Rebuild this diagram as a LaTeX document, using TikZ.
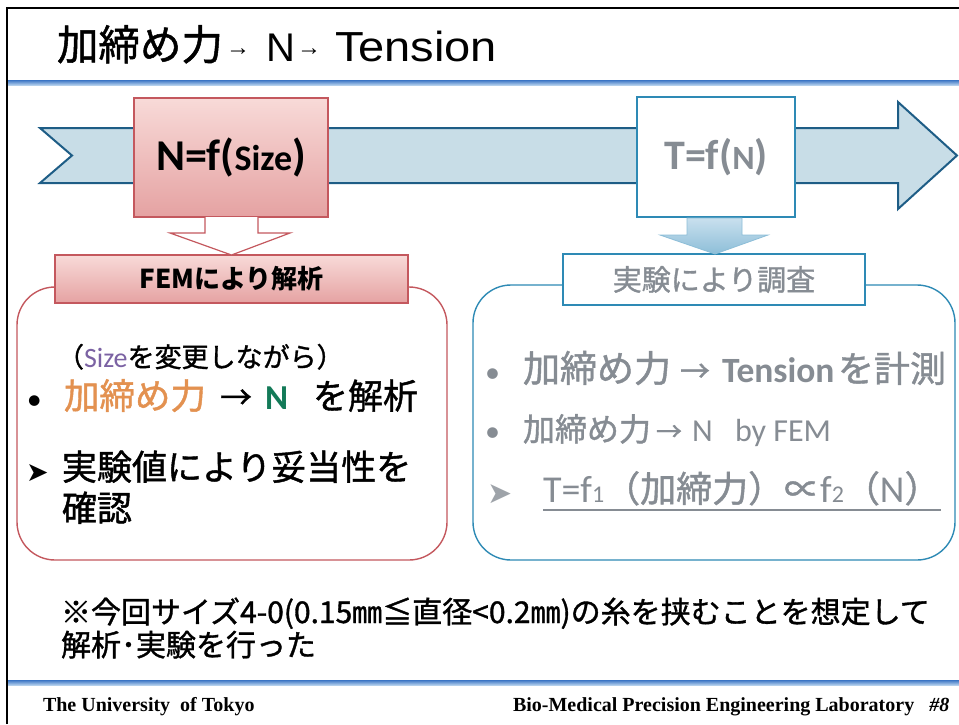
\documentclass[tikz,border=0pt]{standalone}
\usepackage{fontspec}
\usetikzlibrary{calc}
\setmainfont{Carlito}
\newfontfamily\jp{Noto Sans CJK JP}
\newfontfamily\jpm[FakeBold=1.2]{Noto Sans CJK JP}
\newfontfamily\ars{Liberation Sans}
\newfontfamily\arsw[FakeStretch=1.12]{Liberation Sans}
\newfontfamily\tms{Liberation Serif}
\newfontfamily\dvs{DejaVu Sans}
\definecolor{redb}{HTML}{C4585E}
\definecolor{pinkT}{HTML}{F8DAD8}
\definecolor{pinkB}{HTML}{E5A2A2}
\definecolor{arrfill}{HTML}{C8DDE7}
\definecolor{arrline}{HTML}{1E5D86}
\definecolor{blueb}{HTML}{2E8AB5}
\definecolor{bdT}{HTML}{C9E0EE}
\definecolor{bdB}{HTML}{8DBED8}
\definecolor{grtxt}{HTML}{868C93}
\definecolor{orng}{HTML}{E39150}
\definecolor{grn}{HTML}{137A58}
\definecolor{purp}{HTML}{7B62A3}
\definecolor{lineT}{HTML}{3A74C4}
\definecolor{lineB}{HTML}{B3CFEC}
\newcommand{\fs}[1]{\fontsize{#1}{#1}\selectfont}
\begin{document}
\begin{tikzpicture}[x=1pt,y=-1pt,inner sep=0pt,outer sep=0pt,
  txt/.style={anchor=base west,inner sep=0pt},
  pinkbox/.style={draw=redb,line width=1.2pt,top color=pinkT,bottom color=pinkB},
  whitebox/.style={draw=blueb,line width=1.6pt,fill=white},
  roundred/.style={draw=redb,line width=1.4pt,rounded corners=38pt},
  roundblue/.style={draw=blueb,line width=1.4pt,rounded corners=38pt},
  sepline/.style={top color=lineT,bottom color=lineB,draw=none}]
\useasboundingbox (0,0) rectangle (959,724);
\fill[white] (0,0) rectangle (959,724);
% frame
\draw[black,line width=1.3pt] (7,724) -- (7,8) -- (959,8);
% title
\node[txt] (t1) at (57,60) {\jpm\fs{41.5}加締め力};
\node[txt] (t2) at (226,55) {\ars\fs{24}→};
\node[txt] (t3) at (266,61) {\ars\fs{40}N};
\node[txt] (t4) at (297,55) {\ars\fs{24}→};
\node[txt] (t5) at (335,61) {\arsw\fs{42}Tension};
\path[sepline] (8,80) rectangle (959,85);
% rounded containers
\draw[roundred] (17,287) rectangle (447,560);
\draw[roundblue] (473,285) rectangle (955,560);
% big arrow
\draw[arrline,line width=2pt,fill=arrfill,line join=miter]
  (40,128) -- (898,128) -- (898,102) -- (957,155.5) -- (898,209) -- (898,183) -- (40,183) -- (72,155.5) -- cycle;
% top boxes
\node[pinkbox,minimum width=194pt,minimum height=119pt] (nbox) at (231,157.5)
  {\bfseries\fs{44}N=f(\fs{36}Size\fs{44})};
\node[whitebox,minimum width=158pt,minimum height=120pt,text=grtxt] (tbox) at (716,157)
  {\bfseries\fs{42}T=f(\fs{34}N\fs{42})};
% label boxes
\node[pinkbox,minimum width=353pt,minimum height=48pt] (fem) at (231.5,279)
  {\jp\bfseries\fs{26}FEMにより解析};
\node[whitebox,minimum width=302pt,minimum height=51pt,text=grtxt] (exp) at (714,279.5)
  {\jpm\fs{29}実験により調査};
% down arrows
\draw[redb,line width=1.2pt,fill=white,line join=miter]
  ($(nbox.south)+(-26,0)$) -- ++(0,16) -- ++(-35,0) -- ($(fem.north)+(0,0)$)
  -- ($(nbox.south)+(59,16)$) -- ++(-32,0) -- ($(nbox.south)+(27,0)$);
\draw[draw=bdB,line width=0.8pt,top color=bdT,bottom color=bdB,line join=miter]
  ($(tbox.south)+(-29,1)$) -- ++(0,17) -- ++(-27,0) -- ($(exp.north)+(1,0)$)
  -- ($(tbox.south)+(52,18)$) -- ++(-26,0) -- ($(tbox.south)+(26,1)$) -- cycle;
% left list
\node[txt] (l1) at (57,367) {\jpm\fs{27}（{\fontspec{Carlito}\fs{28}\color{purp}Size}を変更しながら）};
\node[txt] (b1) at (27,409) {\fs{30}•};
\node[txt,text=orng] (l2a) at (64,409) {\jpm\fs{35.5}加締め力};
\node[txt] (l2b) at (220,409) {\jpm\fs{32}→};
\node[txt,text=grn] (l2c) at (265,409) {\bfseries\fs{35}N};
\node[txt] (l2d) at (313,409) {\jpm\fs{35}を解析};
\node[txt] (a1) at (26,481) {\dvs\fs{27}➤};
\node[txt] (l3) at (62,480) {\jpm\fs{35}実験値により妥当性を};
\node[txt] (l4) at (62,521) {\jpm\fs{35}確認};
% right list
\node[txt,text=grtxt] (r1b) at (485,382) {\fs{30}•};
\node[txt,text=grtxt] (r1a) at (523,382) {\jpm\fs{37}加締め力};
\node[txt,text=grtxt] (r1c) at (680,382) {\jpm\fs{30}→};
\node[txt,text=grtxt] (r1d) at (722,382) {\bfseries\fs{35.5}Tension};
\node[txt,text=grtxt] (r1e) at (838,382) {\jpm\fs{36}を計測};
\node[txt,text=grtxt] (r2b) at (485,441) {\fs{30}•};
\node[txt,text=grtxt] (r2a) at (523,441) {\jpm\fs{32}加締め力};
\node[txt,text=grtxt] (r2c) at (656,441) {\jpm\fs{26}→};
\node[txt,text=grtxt] (r2d) at (692,441) {\fs{32}N};
\node[txt,text=grtxt] (r2e) at (735,441) {\fs{32}by FEM};
\node[txt,text=grtxt!80] (r3a) at (487,503) {\dvs\fs{30}➤};
\node[txt,text=grtxt] (r3) at (543,502) {\fs{38}T=f{\fs{24}1}\jpm\fs{36}（加締力）∝{\fontspec{Carlito}\fs{38}f{\fs{24}2}}（{\fontspec{Carlito}\fs{38}N}）};
\draw[grtxt,line width=1.2pt] ($(r3.base west)+(0,8)$) -- ($(r3.base east)+(0,8)$);
% note
\node[txt] (n1) at (61,623) {\jpm\fs{30}※今回サイズ4-0(0.15㎜≦直径<0.2㎜)の糸を挟むことを想定して};
\node[txt] (n2) at (61,656) {\jpm\fs{30}解析･実験を行った};
\path[sepline] (8,680) rectangle (959,685);
% footer
\node[txt] (f1) at (43,711) {\tms\bfseries\fs{20}The University\ \ of Tokyo};
\node[txt] (f2) at (513,711) {\tms\bfseries\fs{20}Bio-Medical Precision Engineering Laboratory\ \ \ {\itshape\#8}};
\end{tikzpicture}
\end{document}
